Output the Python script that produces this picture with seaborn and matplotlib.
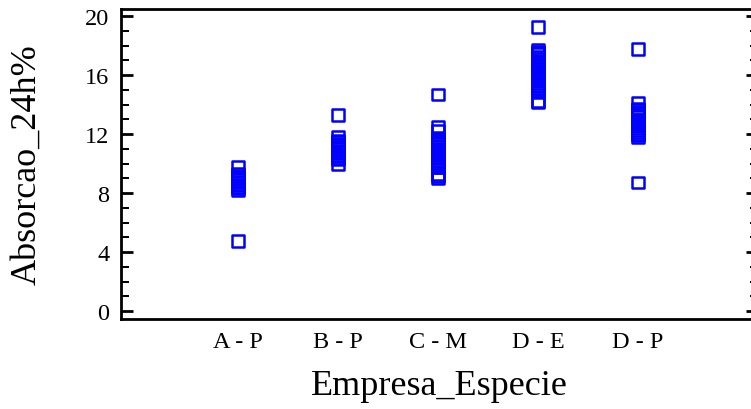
import numpy as np
import pandas as pd
import matplotlib
matplotlib.use("Agg")
import matplotlib.pyplot as plt
import seaborn as sns
from matplotlib.ticker import MultipleLocator

categories = ["A - P", "B - P", "C - M", "D - E", "D - P"]

ap_vals = [9.8, 9.3, 9.2, 9.1, 9.0, 8.9, 8.8, 8.7, 8.6, 8.5, 8.4, 8.3, 8.2, 4.75]
bp_vals = [13.3, 11.82, 11.58, 11.48, 11.38, 11.28, 11.18, 11.08, 10.98, 10.88,
           10.78, 10.68, 10.58, 10.48, 10.38, 10.3, 9.97]
cm_vals = [14.67, 12.49, 12.25, 11.74, 11.64, 11.54, 11.44, 11.34, 11.24, 11.14,
           11.04, 10.94, 10.84, 10.74, 10.64, 10.54, 10.44, 10.34, 10.24, 10.14,
           10.04, 9.94, 9.85, 9.76, 9.25, 9.12, 9.0]
de_vals = [19.27, 17.71, 17.6, 17.5, 17.42, 17.22, 17.1, 16.98, 16.86, 16.74,
           16.62, 16.5, 16.3, 16.18, 16.06, 15.94, 15.82, 15.7, 15.58, 15.46,
           15.34, 15.22, 15.1, 15.0, 14.86, 14.22, 14.15]
dp_vals = [17.78, 14.16, 13.75, 13.63, 13.51, 13.39, 13.27, 13.15, 13.0, 12.88,
           12.76, 12.64, 12.52, 12.4, 12.25, 12.13, 12.01, 11.9, 11.81, 8.72]

series = [ap_vals, bp_vals, cm_vals, de_vals, dp_vals]

df = pd.DataFrame({
    "Empresa_Especie": [c for c, vals in zip(categories, series) for _ in vals],
    "Absorcao_24h%": [v for vals in series for v in vals],
})

sns.set_style("ticks")
plt.rcParams["font.family"] = ["Liberation Serif", "DejaVu Serif"]
plt.rcParams["text.color"] = "black"
plt.rcParams["axes.labelcolor"] = "black"
plt.rcParams["xtick.color"] = "black"
plt.rcParams["ytick.color"] = "black"

left_px, right_px, top_px, bot_px = 120.7, 758.0, 9.7, 319.5
fig = plt.figure(figsize=(7.51, 4.10), dpi=100)
ax = fig.add_axes([left_px / 751, 1 - bot_px / 410,
                   (right_px - left_px) / 751, (bot_px - top_px) / 410])

sns.stripplot(data=df, x="Empresa_Especie", y="Absorcao_24h%", order=categories,
              jitter=False, marker="s", size=8.2, color="#0000ff",
              linewidth=1.8, edgecolor="#0000ff", ax=ax)
for coll in ax.collections:
    coll.set_facecolor("none")
    coll.set_edgecolor("#0000ff")

ax.set_xlim(-1.173, 5.2)
ax.set_ylim(-0.5, 20.5)
ax.yaxis.set_major_locator(MultipleLocator(4))
ax.yaxis.set_minor_locator(MultipleLocator(1))

for sp in ax.spines.values():
    sp.set_visible(True)
    sp.set_linewidth(2)
    sp.set_color("black")

ax.tick_params(axis="y", which="major", direction="in", length=8.6, width=2,
               left=True, right=True, labelsize=17.5, pad=8,
               color="black", labelcolor="black")
ax.tick_params(axis="y", which="minor", direction="in", length=5.5, width=1.45,
               left=True, right=True, color="black")
ax.tick_params(axis="x", which="both", length=0, labelsize=17.5, pad=9,
               labelcolor="black")

ax.set_xlabel("Empresa_Especie", fontsize=26, labelpad=12, color="black")
ax.set_ylabel("Absorcao_24h%", fontsize=26, color="black")
ax.yaxis.set_label_coords((43 - left_px) / (right_px - left_px), 0.5)

fig.savefig("out.png", dpi=100)
